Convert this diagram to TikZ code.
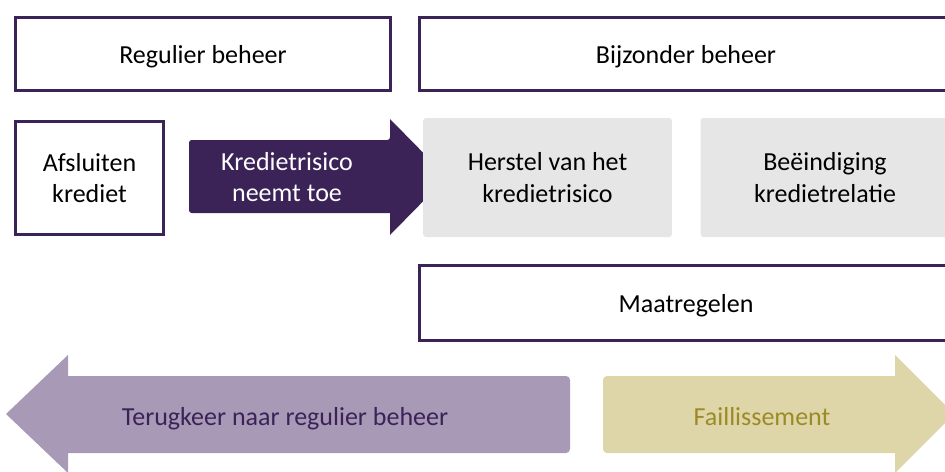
\documentclass[tikz,border=0pt]{standalone}
\usepackage{fontspec}
\setmainfont{Carlito}
\definecolor{darkpurple}{RGB}{59,35,88}
\definecolor{lightpurple}{RGB}{168,153,182}
\definecolor{khaki}{RGB}{222,214,168}
\definecolor{olive}{RGB}{156,138,38}
\definecolor{lightgray}{RGB}{230,230,230}
\tikzset{
  phasebox/.style={draw=darkpurple, line width=2.25pt, fill=white, inner sep=0pt},
  graybox/.style={fill=lightgray, rounded corners=2pt, inner sep=0pt,
    minimum width=186.5pt, minimum height=89.25pt},
  label/.style={font=\fontsize{19.5}{23.5}\selectfont, align=center},
}
\begin{document}
\begin{tikzpicture}[x=0.75pt,y=-0.75pt]
        \useasboundingbox (0,0) rectangle (945,471);
        \clip (0,0) rectangle (945,471);

        % top row
        \node[phasebox, label, minimum width=281.25pt, minimum height=54.75pt, text depth=0pt] at (203,54) (regulier) {Regulier beheer};
        \node[phasebox, label, minimum width=400pt, minimum height=54.75pt, text depth=0pt] at (686,54) (bijzonder) {Bijzonder beheer};

        % middle row
        \node[phasebox, label, minimum width=111pt, minimum height=84.75pt] at (89.5,178) (afsluiten) {Afsluiten\\krediet};
        \fill[darkpurple, rounded corners=2pt] (189,140) -- (390,140) [sharp corners] -- (390,119) -- (447,177) -- (390,235) -- (390,213) [rounded corners=2pt] -- (189,213) -- cycle;
        \node[label, text=white] at (287,177) (toename) {Kredietrisico\\neemt toe};
        \node[graybox, label] at (547.5,177.5) (herstel) {Herstel van het\\kredietrisico};
        \node[graybox, label] at (825,177.5) (beeindiging) {Beëindiging\\kredietrelatie};

        \node[phasebox, label, minimum width=400pt, minimum height=56.25pt, text depth=0pt] at (686,303) (maatregelen) {Maatregelen};

        % bottom arrows
        \fill[lightpurple, rounded corners=3pt] (570,376) -- (570,453) [sharp corners] -- (68,453) -- (68,473) -- (6,414) -- (68,355) -- (68,376) [rounded corners=3pt] -- cycle;
        \node[label, text=darkpurple, text depth=0pt] at (285,416) (terugkeer) {Terugkeer naar regulier beheer};
        \fill[khaki, rounded corners=3pt] (603,376) -- (603,453) [sharp corners] -- (895,453) -- (895,473) -- (954,414) -- (895,355) -- (895,376) [rounded corners=3pt] -- cycle;
        \node[label, text=olive, text depth=0pt] at (762,416) (faillissement) {Faillissement};
\end{tikzpicture}
\end{document}
